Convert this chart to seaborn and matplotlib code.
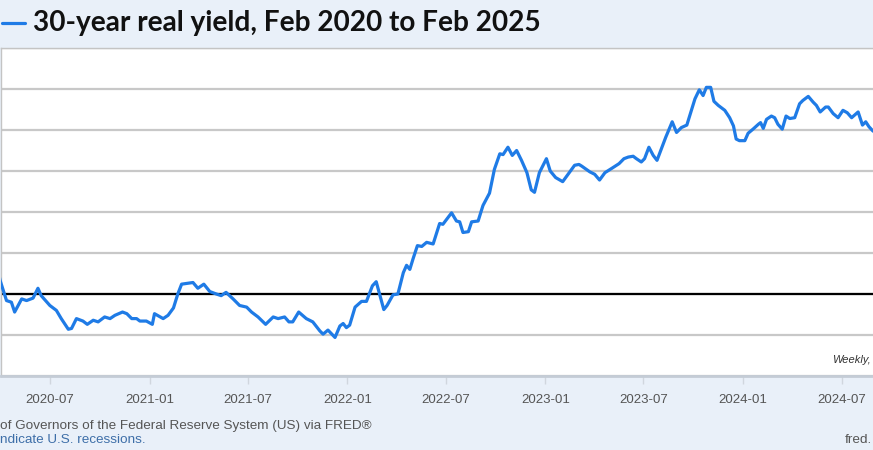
import matplotlib
matplotlib.use('Agg')
import matplotlib.pyplot as plt
import matplotlib.dates as mdates
from matplotlib.lines import Line2D
import seaborn as sns
import pandas as pd

# ---- data ----
dates = [
    "2020-03-27", "2020-03-31", "2020-04-12", "2020-04-21", "2020-04-27", "2020-05-10", "2020-05-19",
    "2020-05-31", "2020-06-09", "2020-06-15", "2020-07-01", "2020-07-13", "2020-07-22",
    "2020-08-04", "2020-08-10", "2020-08-19", "2020-08-31", "2020-09-08", "2020-09-19",
    "2020-09-28", "2020-10-10", "2020-10-20", "2020-10-29", "2020-11-12", "2020-11-20",
    "2020-11-29", "2020-12-08", "2020-12-14", "2020-12-26", "2021-01-06", "2021-01-10",
    "2021-01-26", "2021-02-04", "2021-02-14", "2021-02-22", "2021-03-01", "2021-03-22",
    "2021-03-31", "2021-04-11", "2021-04-22", "2021-05-04", "2021-05-13", "2021-05-22",
    "2021-06-04", "2021-06-16", "2021-06-29", "2021-07-08", "2021-07-20", "2021-08-03",
    "2021-08-17", "2021-08-26", "2021-09-07", "2021-09-15", "2021-09-22", "2021-10-03",
    "2021-10-17", "2021-10-29", "2021-11-11", "2021-11-17", "2021-11-26", "2021-12-09",
    "2021-12-18", "2021-12-24", "2021-12-30", "2022-01-05", "2022-01-15", "2022-01-27",
    "2022-02-05", "2022-02-16", "2022-02-23", "2022-03-09", "2022-03-15", "2022-03-26",
    "2022-04-04", "2022-04-14", "2022-04-20", "2022-04-26", "2022-05-02", "2022-05-10",
    "2022-05-18", "2022-05-27", "2022-06-08", "2022-06-20", "2022-06-26", "2022-07-12",
    "2022-07-21", "2022-07-27", "2022-08-02", "2022-08-12", "2022-08-18", "2022-08-30",
    "2022-09-08", "2022-09-20", "2022-09-29", "2022-10-09", "2022-10-15", "2022-10-24",
    "2022-11-01", "2022-11-09", "2022-11-18", "2022-11-28", "2022-12-06", "2022-12-12",
    "2022-12-21", "2023-01-03", "2023-01-10", "2023-01-20", "2023-02-02", "2023-02-12",
    "2023-02-24", "2023-03-04", "2023-03-09", "2023-03-24", "2023-04-02", "2023-04-11",
    "2023-04-21", "2023-05-03", "2023-05-17", "2023-05-26", "2023-06-03", "2023-06-12",
    "2023-06-18", "2023-06-27", "2023-07-03", "2023-07-11", "2023-07-19", "2023-07-26",
    "2023-08-11", "2023-08-23", "2023-08-31", "2023-09-09", "2023-09-19", "2023-10-04",
    "2023-10-12", "2023-10-19", "2023-10-25", "2023-11-02", "2023-11-08", "2023-11-16",
    "2023-11-28", "2023-12-07", "2023-12-14", "2023-12-19", "2023-12-25", "2024-01-04",
    "2024-01-10", "2024-01-19", "2024-01-29", "2024-02-02", "2024-02-07", "2024-02-13",
    "2024-02-22", "2024-02-28", "2024-03-05", "2024-03-13", "2024-03-20", "2024-03-27",
    "2024-04-05", "2024-04-14", "2024-04-20", "2024-04-30", "2024-05-09", "2024-05-15",
    "2024-05-22", "2024-06-01", "2024-06-06", "2024-06-15", "2024-06-24", "2024-07-03",
    "2024-07-11", "2024-07-19", "2024-07-31", "2024-08-08", "2024-08-14", "2024-08-20",
    "2024-08-27", "2024-09-05",
]
yields = [
    0.30, 0.17, -0.08, -0.10, -0.22, -0.06, -0.08,
    -0.05, 0.07, -0.02, -0.14, -0.20, -0.30,
    -0.43, -0.42, -0.30, -0.33, -0.37, -0.32,
    -0.34, -0.28, -0.30, -0.26, -0.22, -0.24,
    -0.30, -0.30, -0.33, -0.33, -0.37, -0.24,
    -0.30, -0.26, -0.17, 0.00, 0.12, 0.14,
    0.07, 0.12, 0.03, 0.00, -0.02, 0.02,
    -0.06, -0.14, -0.16, -0.22, -0.28, -0.37,
    -0.28, -0.30, -0.28, -0.34, -0.34, -0.22,
    -0.30, -0.34, -0.45, -0.49, -0.44, -0.53,
    -0.39, -0.36, -0.41, -0.38, -0.16, -0.09,
    -0.09, 0.10, 0.15, -0.19, -0.14, -0.01,
    0.00, 0.26, 0.35, 0.30, 0.43, 0.59,
    0.58, 0.63, 0.61, 0.86, 0.85, 0.99,
    0.89, 0.88, 0.75, 0.76, 0.88, 0.89,
    1.08, 1.23, 1.52, 1.71, 1.70, 1.79,
    1.69, 1.75, 1.63, 1.48, 1.27, 1.24,
    1.48, 1.65, 1.50, 1.42, 1.37, 1.46,
    1.57, 1.58, 1.56, 1.49, 1.46, 1.39,
    1.48, 1.53, 1.59, 1.65, 1.67, 1.68,
    1.65, 1.61, 1.65, 1.79, 1.69, 1.63,
    1.91, 2.10, 1.97, 2.03, 2.06, 2.38,
    2.49, 2.42, 2.52, 2.52, 2.35, 2.30,
    2.24, 2.15, 2.05, 1.89, 1.87, 1.87,
    1.96, 2.01, 2.07, 2.09, 2.02, 2.13,
    2.17, 2.15, 2.07, 2.01, 2.17, 2.14,
    2.15, 2.32, 2.36, 2.41, 2.34, 2.30,
    2.22, 2.28, 2.28, 2.20, 2.15, 2.24,
    2.21, 2.15, 2.22, 2.06, 2.10, 2.04,
    1.99, 1.95,
]
title = "30-year real yield, Feb 2020 to Feb 2025"
y_grid = [-1.0, -0.5, 0.0, 0.5, 1.0, 1.5, 2.0, 2.5, 3.0]

# ---- style ----
sns.set_theme(style='white')
plt.rcParams['font.family'] = ['Liberation Sans', 'DejaVu Sans']

W, H = 873, 450
BG = '#e9f0f9'
LINE = '#1f7be6'
fig = plt.figure(figsize=(W / 100, H / 100), dpi=100, facecolor=BG)
ax = fig.add_axes([1 / W, (H - 376) / H, 940 / W, (376 - 48) / H])
ax.set_facecolor('white')

df = pd.DataFrame({'date': pd.to_datetime(dates), 'value': yields})
sns.lineplot(data=df, x='date', y='value', ax=ax, color=LINE, lw=2.3, zorder=3)

ax.set_ylim(-1, 3)
x0 = pd.Timestamp('2020-03-31')
ax.set_xlim(x0 + pd.Timedelta(days=1 * 1.8447), x0 + pd.Timedelta(days=941 * 1.8447))

ax.set_yticks(y_grid)
ax.yaxis.grid(True, color='#c8c8c8', lw=1.6, zorder=1)
ax.xaxis.grid(False)
ax.axhline(0, color='black', lw=1.6, zorder=2)
ax.tick_params(axis='y', left=False, labelleft=False)

ax.xaxis.set_major_locator(mdates.MonthLocator(bymonth=[1, 7]))
ax.xaxis.set_major_formatter(mdates.DateFormatter('%Y-%m'))
ax.tick_params(axis='x', bottom=True, length=6, width=1, color='#d0d6de',
               labelcolor='#555555', labelsize=9.5, pad=7)
ax.set_xlabel('')
ax.set_ylabel('')

for s in ['left', 'top', 'right']:
    ax.spines[s].set_color('#c4c4c4')
    ax.spines[s].set_linewidth(1.0)
ax.spines['bottom'].set_color('#c4ccd6')
ax.spines['bottom'].set_linewidth(2.0)

# title with legend swatch
fig.add_artist(Line2D([2 / W, 25 / W], [1 - 23 / H] * 2, color=LINE, lw=2.3))
fig.text(33 / W, 1 - 31 / H, title, fontsize=20.2, fontweight='bold',
         color='#111111', va='baseline', ha='left', family=['Lato', 'DejaVu Sans'])

fig.text(832 / W, 1 - 360 / H, 'Weekly,', fontsize=8, style='italic',
         color='#333333', va='center', ha='left')

fig.text(0, 1 - 426 / H, 'of Governors of the Federal Reserve System (US) via FRED\u00ae',
         fontsize=9.7, color='#555555', va='center', ha='left')
fig.text(0, 1 - 440 / H, 'ndicate U.S. recessions.', fontsize=9.7, color='#3d6ea8',
         va='center', ha='left')
fig.text(845 / W, 1 - 440 / H, 'fred.', fontsize=9.7, color='#555555', va='center', ha='left')

fig.savefig('out.png', dpi=100, facecolor=BG)
